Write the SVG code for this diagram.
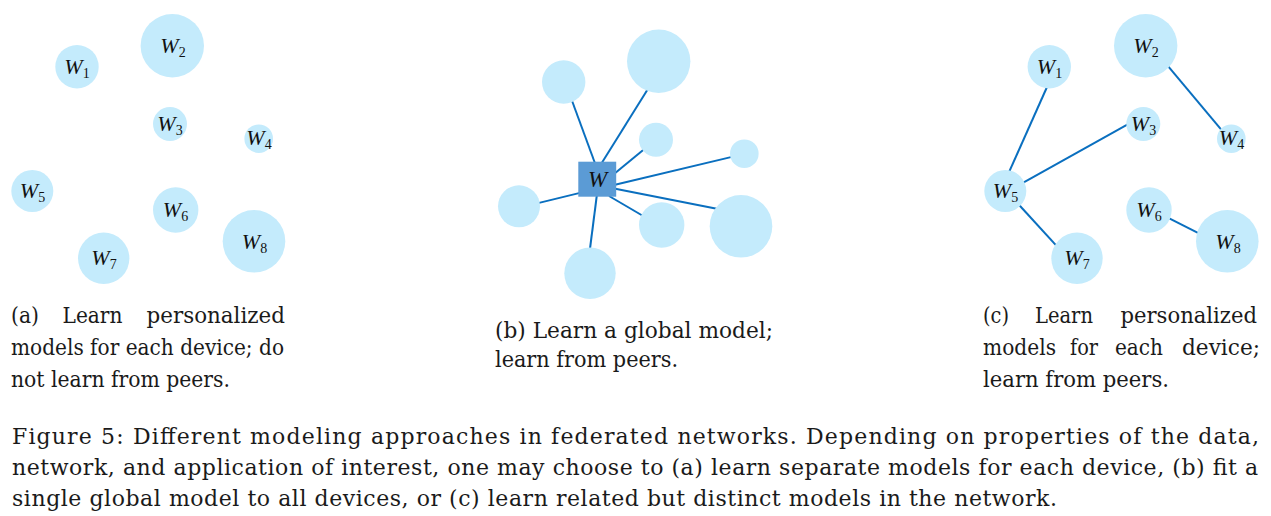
<svg xmlns="http://www.w3.org/2000/svg" width="1271" height="516" viewBox="0 0 1271 516">
<style>
.n{fill:#c4ebfc}
.e{stroke:#0a6fbf;stroke-width:2;stroke-linecap:butt;fill:none}
text{font-family:'DejaVu Serif','Liberation Serif',serif}
.lb{font-family:'Liberation Serif','DejaVu Serif',serif;font-size:22px;fill:#111;text-anchor:middle}
.lb .w{font-style:italic}
.lb .s{font-size:14px}
.cap text{font-size:22px;fill:#1a1a1a}
</style>
<rect width="1271" height="516" fill="#ffffff"/>

<!-- Panel (a) -->
<g id="a-W1"><circle class="n" cx="77" cy="66.7" r="21.7"/><text class="lb" x="77" y="74"><tspan class="w">W</tspan><tspan class="s" dy="4">1</tspan></text></g>
<g id="a-W2"><circle class="n" cx="172.3" cy="45.7" r="31.7"/><text class="lb" x="173" y="53"><tspan class="w">W</tspan><tspan class="s" dy="4">2</tspan></text></g>
<g id="a-W3"><circle class="n" cx="170" cy="124" r="17"/><text class="lb" x="170" y="131"><tspan class="w">W</tspan><tspan class="s" dy="4">3</tspan></text></g>
<g id="a-W4"><circle class="n" cx="258.7" cy="138.7" r="14.3"/><text class="lb" x="259" y="145"><tspan class="w">W</tspan><tspan class="s" dy="4">4</tspan></text></g>
<g id="a-W5"><circle class="n" cx="32.3" cy="191" r="21"/><text class="lb" x="32.5" y="198"><tspan class="w">W</tspan><tspan class="s" dy="4">5</tspan></text></g>
<g id="a-W6"><circle class="n" cx="175.7" cy="210" r="22.7"/><text class="lb" x="175.5" y="217"><tspan class="w">W</tspan><tspan class="s" dy="4">6</tspan></text></g>
<g id="a-W7"><circle class="n" cx="103.7" cy="258.3" r="25.7"/><text class="lb" x="104" y="265"><tspan class="w">W</tspan><tspan class="s" dy="4">7</tspan></text></g>
<g id="a-W8"><circle class="n" cx="254" cy="241.3" r="31.3"/><text class="lb" x="254.5" y="249"><tspan class="w">W</tspan><tspan class="s" dy="4">8</tspan></text></g>

<!-- Panel (b) connectors -->
<g id="b-connectors">
<line class="e" x1="571" y1="98" x2="596" y2="166"/>
<line class="e" x1="648.5" y1="88" x2="600.5" y2="165"/>
<line class="e" x1="645" y1="148.5" x2="614" y2="174"/>
<line class="e" x1="733" y1="156.6" x2="614" y2="185"/>
<line class="e" x1="718" y1="209" x2="614" y2="188.4"/>
<line class="e" x1="644" y1="216.5" x2="609" y2="196"/>
<line class="e" x1="589.7" y1="251" x2="597" y2="194"/>
<line class="e" x1="537" y1="203.4" x2="581" y2="192.6"/>
</g>
<!-- Panel (b) nodes -->
<g id="b-n1"><circle class="n" cx="563.7" cy="82" r="21.7"/></g>
<g id="b-n2"><circle class="n" cx="658.7" cy="61.3" r="31.7"/></g>
<g id="b-n3"><circle class="n" cx="656" cy="139.7" r="17"/></g>
<g id="b-n4"><circle class="n" cx="744.3" cy="153.7" r="14.3"/></g>
<g id="b-n5"><circle class="n" cx="519" cy="206.3" r="21"/></g>
<g id="b-n6"><circle class="n" cx="661.7" cy="225" r="22.7"/></g>
<g id="b-n7"><circle class="n" cx="590" cy="273.3" r="25.7"/></g>
<g id="b-n8"><circle class="n" cx="741" cy="226.3" r="31.3"/></g>
<g id="b-W"><rect x="578.3" y="161.7" width="37.9" height="35" fill="#5b9bd5"/><text class="lb" x="597.5" y="187" style="font-size:23px"><tspan class="w">W</tspan></text></g>

<!-- Panel (c) connectors -->
<g id="c-connectors">
<line class="e" x1="1047.9" y1="85" x2="1008.8" y2="172.7"/>
<line class="e" x1="1128.6" y1="123.8" x2="1022.4" y2="183.2"/>
<line class="e" x1="1018.7" y1="204.5" x2="1057.7" y2="247.2"/>
<line class="e" x1="1167.4" y1="65.4" x2="1222.9" y2="131.6"/>
<line class="e" x1="1167.3" y1="217.3" x2="1200.4" y2="234.1"/>
</g>
<!-- Panel (c) nodes -->
<g id="c-W1"><circle class="n" cx="1049.3" cy="66.7" r="21.7"/><text class="lb" x="1049.5" y="74"><tspan class="w">W</tspan><tspan class="s" dy="4">1</tspan></text></g>
<g id="c-W2"><circle class="n" cx="1145.7" cy="45.7" r="31.7"/><text class="lb" x="1146" y="53"><tspan class="w">W</tspan><tspan class="s" dy="4">2</tspan></text></g>
<g id="c-W3"><circle class="n" cx="1143.3" cy="124" r="17"/><text class="lb" x="1143.5" y="131"><tspan class="w">W</tspan><tspan class="s" dy="4">3</tspan></text></g>
<g id="c-W4"><circle class="n" cx="1231.3" cy="138.7" r="14.3"/><text class="lb" x="1231.5" y="145"><tspan class="w">W</tspan><tspan class="s" dy="4">4</tspan></text></g>
<g id="c-W5"><circle class="n" cx="1005.3" cy="191" r="21"/><text class="lb" x="1005.5" y="198"><tspan class="w">W</tspan><tspan class="s" dy="4">5</tspan></text></g>
<g id="c-W6"><circle class="n" cx="1149" cy="210" r="22.7"/><text class="lb" x="1149" y="217"><tspan class="w">W</tspan><tspan class="s" dy="4">6</tspan></text></g>
<g id="c-W7"><circle class="n" cx="1077" cy="258.3" r="25.7"/><text class="lb" x="1077" y="265"><tspan class="w">W</tspan><tspan class="s" dy="4">7</tspan></text></g>
<g id="c-W8"><circle class="n" cx="1227.3" cy="241.3" r="31.3"/><text class="lb" x="1228" y="249"><tspan class="w">W</tspan><tspan class="s" dy="4">8</tspan></text></g>

<!-- Sub-captions -->
<g id="sub-a" class="cap">
<text x="11" y="323" textLength="28" lengthAdjust="spacingAndGlyphs">(a)</text>
<text x="62.5" y="323" textLength="60" lengthAdjust="spacingAndGlyphs">Learn</text>
<text x="146.5" y="323" textLength="138.5" lengthAdjust="spacingAndGlyphs">personalized</text>
<text x="11" y="355" textLength="273" lengthAdjust="spacingAndGlyphs">models for each device; do</text>
<text x="11" y="386.5" textLength="219" lengthAdjust="spacingAndGlyphs">not learn from peers.</text>
</g>
<g id="sub-b" class="cap">
<text x="495" y="338" textLength="278" lengthAdjust="spacingAndGlyphs">(b) Learn a global model;</text>
<text x="495" y="367" textLength="183" lengthAdjust="spacingAndGlyphs">learn from peers.</text>
</g>
<g id="sub-c" class="cap">
<text x="983" y="323" textLength="26" lengthAdjust="spacingAndGlyphs">(c)</text>
<text x="1035" y="323" textLength="58" lengthAdjust="spacingAndGlyphs">Learn</text>
<text x="1120.5" y="323" textLength="136.5" lengthAdjust="spacingAndGlyphs">personalized</text>
<text x="983" y="355" textLength="73" lengthAdjust="spacingAndGlyphs">models</text>
<text x="1070" y="355" textLength="28" lengthAdjust="spacingAndGlyphs">for</text>
<text x="1115" y="355" textLength="48" lengthAdjust="spacingAndGlyphs">each</text>
<text x="1182" y="355" textLength="78" lengthAdjust="spacingAndGlyphs">device;</text>
<text x="983" y="386.5" textLength="186" lengthAdjust="spacingAndGlyphs">learn from peers.</text>
</g>

<!-- Figure caption -->
<g id="caption" class="cap">
<text x="12" y="443.5" textLength="1247" lengthAdjust="spacing">Figure 5: Different modeling approaches in federated networks. Depending on properties of the data,</text>
<text x="12" y="475" textLength="1246" lengthAdjust="spacing">network, and application of interest, one may choose to (a) learn separate models for each device, (b) fit a</text>
<text x="12" y="506" textLength="1045" lengthAdjust="spacing">single global model to all devices, or (c) learn related but distinct models in the network.</text>
</g>
</svg>
